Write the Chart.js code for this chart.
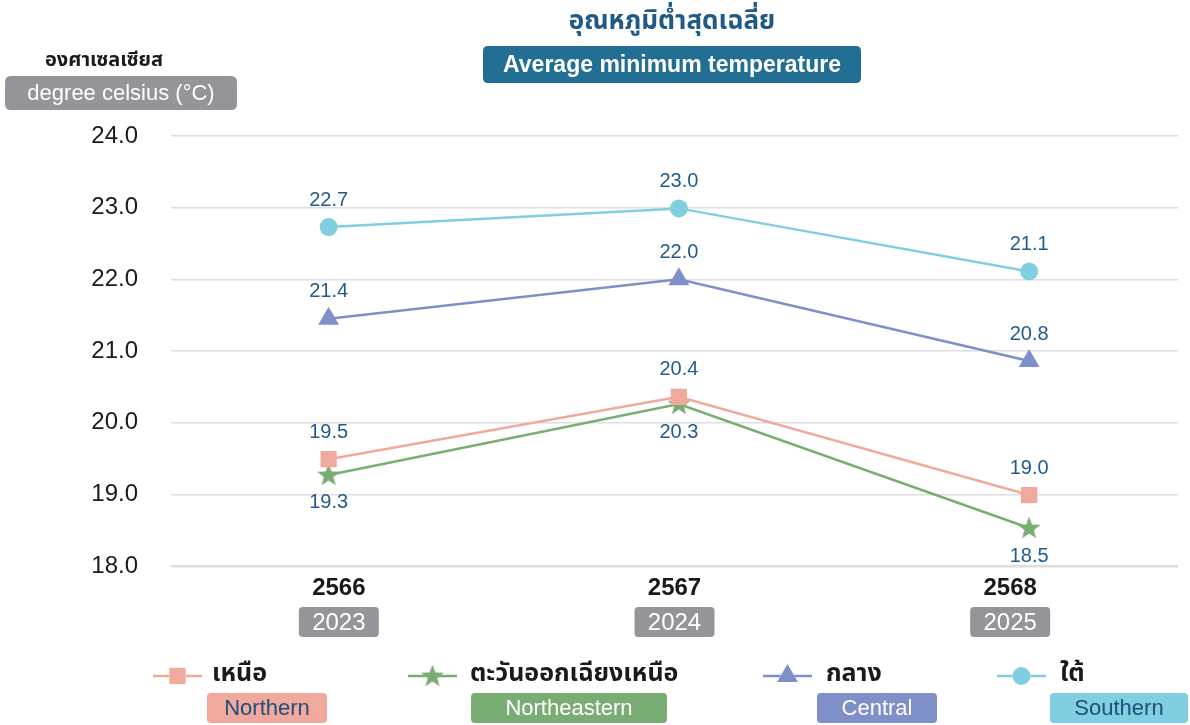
<!DOCTYPE html>
<html>
<head>
<meta charset="utf-8">
<script src="https://cdn.jsdelivr.net/npm/chart.js@4.4.1/dist/chart.umd.min.js"></script>
<style>
  html, body { margin: 0; padding: 0; background: #fff; }
  #chart-container { width: 1190px; height: 725px; }
</style>
</head>
<body>
<div id="chart-container"><canvas id="myChart" width="1190" height="725"></canvas></div>
<script>
// ปี พ.ศ. / ค.ศ.
var yearsThai = ['2566', '2567', '2568'];
var yearsEn = ['2023', '2024', '2025'];

// ค่าที่อ่านได้จากตำแหน่งจุดในภาพ
var northern = [19.49, 20.36, 18.99];
var northeastern = [19.27, 20.26, 18.53];
var central = [21.45, 22.0, 20.86];
var southern = [22.73, 22.99, 22.11];

// ตัวเลขที่พิมพ์ไว้บนจุด (จุดสุดท้ายของภาคใต้พิมพ์ว่า 21.1)
var northernText = ['19.5', '20.4', '19.0'];
var northeasternText = ['19.3', '20.3', '18.5'];
var centralText = ['21.4', '22.0', '20.8'];
var southernText = ['22.7', '23.0', '21.1'];

var seriesThai = ['เหนือ', 'ตะวันออกเฉียงเหนือ', 'กลาง', 'ใต้'];
var seriesEn = ['Northern', 'Northeastern', 'Central', 'Southern'];

var yTicks = [18, 19, 20, 21, 22, 23, 24];

var titleThai = 'อุณหภูมิต่ำสุดเฉลี่ย';
var titleEn = 'Average minimum temperature';
var unitThai = 'องศาเซลเซียส';
var unitEn = 'degree celsius (°C)';

var THAI = "'Noto Sans Thai', 'Noto Sans Thai Looped', 'Loma', 'Garuda', 'Noto Sans', sans-serif";
var LAT = "'Liberation Sans', Arial, sans-serif";

var colors = ['#f0a99c', '#7aad74', '#7f8fc8', '#80cfe0'];
var boxText = ['#1f4e79', '#ffffff', '#ffffff', '#1f4e79'];
var labelPos = ['above', 'below', 'above', 'above'];
var texts = [northernText, northeasternText, centralText, southernText];

// ดาวห้าแฉกแบบทึบ (pointStyle 'star' ของ Chart.js เป็นเส้น)
function makeStar(color, r) {
    var c = document.createElement('canvas');
    c.width = r * 2 + 2; c.height = r * 2 + 2;
    var g = c.getContext('2d');
    g.fillStyle = color;
    g.beginPath();
    for (var i = 0; i < 10; i++) {
        var rad = (i % 2 === 0) ? r : r * 0.42;
        var a = -Math.PI / 2 + i * Math.PI / 5;
        var px = r + 1 + rad * Math.cos(a), py = r + 1.5 + rad * Math.sin(a);
        if (i === 0) g.moveTo(px, py); else g.lineTo(px, py);
    }
    g.closePath();
    g.fill();
    return c;
}
var starImg = makeStar(colors[1], 12);

function toPoints(arr) {
    return arr.map(function (v, i) { return { x: i, y: v }; });
}

function roundRect(ctx, x, y, w, h, r, fill) {
    ctx.beginPath();
    ctx.moveTo(x + r, y);
    ctx.lineTo(x + w - r, y);
    ctx.quadraticCurveTo(x + w, y, x + w, y + r);
    ctx.lineTo(x + w, y + h - r);
    ctx.quadraticCurveTo(x + w, y + h, x + w - r, y + h);
    ctx.lineTo(x + r, y + h);
    ctx.quadraticCurveTo(x, y + h, x, y + h - r);
    ctx.lineTo(x, y + r);
    ctx.quadraticCurveTo(x, y, x + r, y);
    ctx.closePath();
    ctx.fillStyle = fill;
    ctx.fill();
}

var styles = ['rect', starImg, 'triangle', 'circle'];
var radii = [11.5, 12, 12, 9];

var datasets = [northern, northeastern, central, southern].map(function (arr, i) {
    return {
        label: seriesEn[i],
        data: toPoints(arr),
        borderColor: colors[i],
        backgroundColor: colors[i],
        borderWidth: 2.5,
        pointStyle: styles[i],
        pointRadius: radii[i],
        pointBorderWidth: 0,
        pointBackgroundColor: colors[i],
        tension: 0
    };
});

// ตัวหนังสือทั้งหมดรอบกราฟ
var decorPlugin = {
    id: 'decor',
    afterDatasetsDraw: function (chart) {
        var ctx = chart.ctx;
        ctx.save();
        ctx.textAlign = 'center';
        ctx.textBaseline = 'middle';
        ctx.font = '20px ' + LAT;
        ctx.fillStyle = '#245b8c';
        chart.data.datasets.forEach(function (ds, di) {
            var meta = chart.getDatasetMeta(di);
            meta.data.forEach(function (pt, i) {
                var dy = labelPos[di] === 'above' ? -27 : 28;
                ctx.fillText(texts[di][i], pt.x, pt.y + dy);
            });
        });
        ctx.restore();
    },
    afterDraw: function (chart) {
        var ctx = chart.ctx;
        var area = chart.chartArea;
        ctx.save();
        ctx.textAlign = 'center';
        ctx.textBaseline = 'middle';

        // หัวเรื่อง
        ctx.font = 'bold 26px ' + THAI;
        ctx.fillStyle = '#1f5a87';
        ctx.fillText(titleThai, 672, 24);
        roundRect(ctx, 483, 46, 378, 37, 5, '#236f94');
        ctx.font = '600 23px ' + LAT;
        ctx.fillStyle = '#ffffff';
        ctx.fillText(titleEn, 672, 66);

        // หน่วยแกน y
        ctx.font = 'bold 20px ' + THAI;
        ctx.fillStyle = '#1a1a1a';
        ctx.fillText(unitThai, 104, 62);
        roundRect(ctx, 5, 76, 232, 34, 6, '#939598');
        ctx.font = '22px ' + LAT;
        ctx.fillStyle = '#ffffff';
        ctx.fillText(unitEn, 121, 94);

        // ป้ายแกน x
        var step = (area.right - area.left) / yearsThai.length;
        yearsThai.forEach(function (yr, i) {
            var cx = area.left + step * (i + 0.5);
            ctx.font = 'bold 24px ' + LAT;
            ctx.fillStyle = '#1a1a1a';
            ctx.fillText(yr, cx, 588);
            roundRect(ctx, cx - 40, 607, 80, 30, 4, '#939598');
            ctx.font = '24px ' + LAT;
            ctx.fillStyle = '#ffffff';
            ctx.fillText(yearsEn[i], cx, 623);
        });

        // คำอธิบายสัญลักษณ์
        var lineX = [153, 408, 763, 997];
        var textX = [212, 470, 826, 1060];
        var boxX = [207, 471, 817, 1050];
        var boxW = [120, 196, 120, 138];
        seriesThai.forEach(function (name, i) {
            var ly = 676;
            ctx.strokeStyle = colors[i];
            ctx.lineWidth = 2.5;
            ctx.beginPath();
            ctx.moveTo(lineX[i], ly);
            ctx.lineTo(lineX[i] + 49, ly);
            ctx.stroke();
            var ds = chart.data.datasets[i];
            Chart.helpers.drawPoint(ctx, {
                pointStyle: ds.pointStyle,
                radius: ds.pointRadius,
                borderWidth: 0,
                rotation: 0
            }, lineX[i] + 24.5, ly);
            ctx.fillStyle = colors[i];
            ctx.fill();

            ctx.textAlign = 'left';
            ctx.font = 'bold 25px ' + THAI;
            ctx.fillStyle = '#1a1a1a';
            ctx.fillText(name, textX[i], ly);

            roundRect(ctx, boxX[i], 693, boxW[i], 30, 4, colors[i]);
            ctx.textAlign = 'center';
            ctx.font = '22px ' + LAT;
            ctx.fillStyle = boxText[i];
            ctx.fillText(seriesEn[i], boxX[i] + boxW[i] / 2, 709);
        });
        ctx.restore();
    }
};

var ctx = document.getElementById('myChart').getContext('2d');
var myChart = new Chart(ctx, {
    type: 'line',
    data: { datasets: datasets },
    options: {
        responsive: false,
        animation: false,
        layout: { padding: { top: 136, bottom: 159, left: 0, right: 10 } },
        plugins: {
            legend: { display: false },
            tooltip: { enabled: false }
        },
        scales: {
            x: {
                type: 'linear',
                display: false,
                min: -0.45,
                max: 2.425
            },
            y: {
                min: yTicks[0],
                max: yTicks[yTicks.length - 1],
                afterFit: function (scale) { scale.width = 171; },
                border: { display: false },
                grid: {
                    drawTicks: false,
                    color: '#dedede',
                    lineWidth: function (c) { return c.tick && c.tick.value === yTicks[0] ? 2.5 : 1.5; }
                },
                ticks: {
                    stepSize: 1,
                    padding: 33,
                    color: '#1a1a1a',
                    font: { size: 24, family: LAT },
                    callback: function (v) { return v.toFixed(1); }
                }
            }
        }
    },
    plugins: [decorPlugin]
});
</script>
</body>
</html>
